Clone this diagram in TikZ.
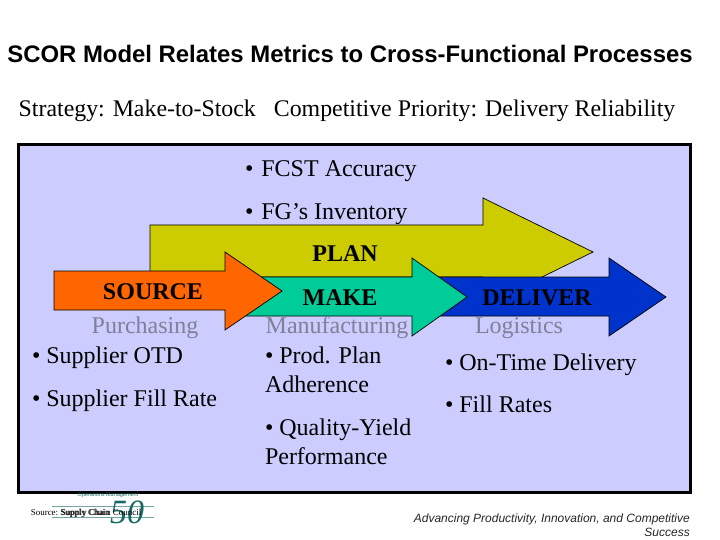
\documentclass[tikz,border=0pt]{standalone}
\usepackage{fontspec}
\setmainfont{Liberation Serif}
\setsansfont{Liberation Sans}
\definecolor{panel}{RGB}{204,204,255}
\definecolor{planc}{RGB}{204,204,0}
\definecolor{sourcec}{RGB}{255,102,0}
\definecolor{makec}{RGB}{0,204,153}
\definecolor{deliverc}{RGB}{0,51,204}
\definecolor{greyt}{RGB}{128,128,153}
\definecolor{teal50}{RGB}{20,105,100}
\tikzset{
  x=1pt,y=-1pt,
  flow/.style={draw=black,line width=0.7pt,line join=miter},
  body/.style={font=\fontsize{24}{28}\selectfont,anchor=base west,inner sep=0pt,outer sep=0pt,align=left},
  head/.style={font=\fontsize{24}{28}\selectfont\bfseries,anchor=base,inner sep=0pt},
  sub/.style={font=\fontsize{24}{28}\selectfont,text=greyt,anchor=base,inner sep=0pt},
  logoline/.style={draw=teal50!60,line width=0.5pt},
  srctext/.style={font=\fontsize{9}{10}\selectfont,inner sep=0pt,anchor=base},
}
\begin{document}
\begin{tikzpicture}
\useasboundingbox (0,0) rectangle (720,540);
\fill[white] (0,0) rectangle (720,540);
\node[inner sep=0pt,anchor=base,font=\sffamily\bfseries\fontsize{23.9}{28}\selectfont] (title) at (350,63) {SCOR Model Relates Metrics to Cross-Functional Processes};
\node[inner sep=0pt,anchor=base,font=\fontsize{23.85}{28}\selectfont] (strategy) at (347,117) {Strategy: Make-to-Stock\hspace{18pt}Competitive Priority: Delivery Reliability};
\draw[fill=panel,line width=3pt] (18,144.5) rectangle (690,492);
\node[body] (fcst) at (245,177) {•\hspace{2pt} FCST Accuracy};
\node[body] (fg) at (245,220) {•\hspace{2pt} FG’s Inventory};
\draw[flow,fill=planc] (150,225) -- (483,225) -- (483,198) -- (593,252) -- (483,306) -- (483,277) -- (150,277) -- cycle;
\draw[flow,fill=deliverc] (430,277) -- (609,277) -- (609,258) -- (666,297) -- (609,336) -- (609,316) -- (430,316) -- cycle;
\draw[flow,fill=makec] (240,277) -- (412,277) -- (412,258) -- (467,297) -- (412,336) -- (412,316) -- (240,316) -- cycle;
\draw[flow,fill=sourcec] (54,271) -- (225,271) -- (225,252) -- (282,291) -- (225,330) -- (225,310) -- (54,310) -- cycle;
\node[head] (plan) at (345,261) {PLAN};
\node[head] (source) at (153,299) {SOURCE};
\node[head] (make) at (340,305) {MAKE};
\node[head] (deliver) at (537,305) {DELIVER};
\node[sub] (purch) at (145,333) {Purchasing};
\node[sub] (manu) at (337,333) {Manufacturing};
\node[sub] (logi) at (519,333) {Logistics};
\node[body] (s1) at (32,363) {• Supplier OTD};
\node[body] (s2) at (32,406) {• Supplier Fill Rate};
\node[body] (m1) at (265,363) {• Prod. Plan};
\node[body] (m2) at (265,392) {Adherence};
\node[body] (m3) at (265,435) {• Quality-Yield};
\node[body] (m4) at (265,464) {Performance};
\node[body] (d1) at (445,370) {• On-Time Delivery};
\node[body] (d2) at (445,412) {• Fill Rates};
\coordinate (l1a) at (52,506);
\coordinate (l1b) at (154,506);
\coordinate (l2a) at (52,517);
\coordinate (l2b) at (154,517);
\draw[logoline] (l1a) -- (l1b);
\draw[logoline] (l2a) -- (l2b);
\node[inner sep=0pt,anchor=base,text=teal50,font=\fontsize{34}{36}\selectfont\itshape] (fifty) at (127,523) {50};
\node[inner sep=0pt,anchor=base,text=teal50,font=\sffamily\fontsize{5.5}{6}\selectfont] (ops) at (108,496) {Operations Management};
\node[srctext] (src1) at (86,515) {Source: Supply Chain Council};
\node[srctext] (src2) at (85,515) {Supply Chain};
\node[inner sep=0pt,anchor=base east,align=right,text=black!85,font=\sffamily\itshape\fontsize{12}{14}\selectfont] (adv) at (690,536) {Advancing Productivity, Innovation, and Competitive\\Success};
\end{tikzpicture}
\end{document}
